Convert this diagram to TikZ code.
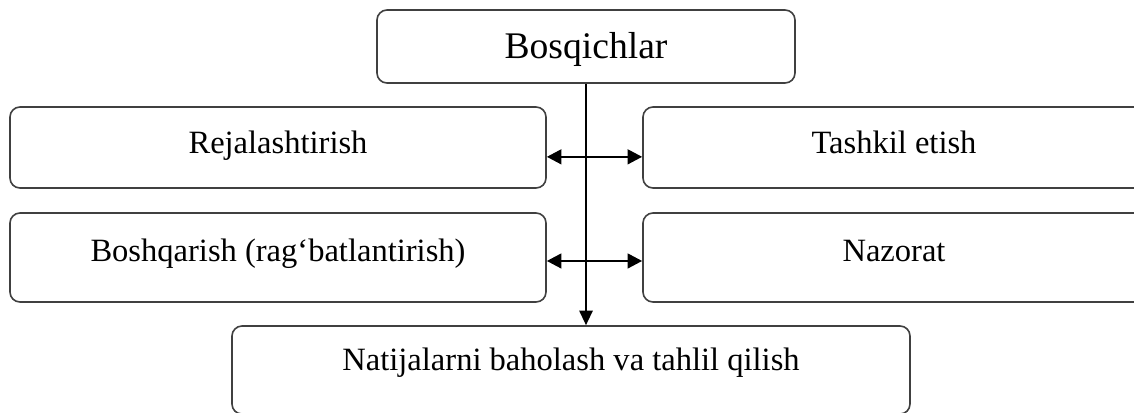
\documentclass[tikz,border=0pt]{standalone}
\usepackage{fontspec}
\setmainfont{Liberation Serif}
\usetikzlibrary{positioning,arrows.meta}

\begin{document}
\begin{tikzpicture}[x=0.75pt, y=-0.75pt,
  box/.style={draw=black!75, line width=1.2pt, rounded corners=7.5pt, inner sep=0pt,
    font=\fontsize{24.4}{28}\selectfont, text height=17pt, text depth=17pt},
  link/.style={line width=2pt, {Triangle[length=11pt,width=11pt]}-{Triangle[length=11pt,width=11pt]}}]
\useasboundingbox (0, 0) rectangle (1134, 412);

\node[box, minimum width=313.5pt, minimum height=54.75pt, font=\fontsize{28.2}{32}\selectfont,
  text height=18.6pt, text depth=0pt] (top) at (586, 46.5) {Bosqichlar};
\node[box, minimum width=402pt, minimum height=60.75pt, text depth=8pt] (rej) at (278, 147.5) {Rejalashtirish};
\node[box, minimum width=376.5pt, minimum height=60.75pt, text depth=8pt] (tash) at (894, 147.5) {Tashkil etish};
\node[box, minimum width=402pt, minimum height=66.75pt, text depth=11pt] (boss) at (278, 257.5) {Boshqarish (rag‘batlantirish)};
\node[box, minimum width=376.5pt, minimum height=66.75pt, text depth=11pt] (naz) at (894, 257.5) {Nazorat};
\node[box, minimum width=508.5pt, minimum height=66pt] (nat) at (571, 370) {Natijalarni baholash va tahlil qilish};

\draw[line width=1.6pt, -{Triangle[length=11pt,width=10pt]}] (top.south) -- (top.south |- nat.north);
\draw[link] ([yshift=-7pt]rej.east) -- ([yshift=-7pt]rej.east -| tash.west);
\draw[link] ([yshift=-2.6pt]boss.east) -- ([yshift=-2.6pt]boss.east -| naz.west);

\end{tikzpicture}
\end{document}
